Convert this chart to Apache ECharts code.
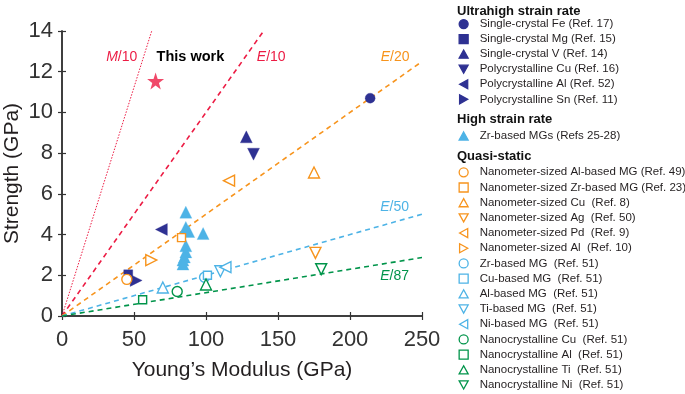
<!DOCTYPE html>
<html><head><meta charset="utf-8">
<script src="https://cdn.jsdelivr.net/npm/echarts@6/dist/echarts.min.js"></script>
<style>html,body{margin:0;padding:0;background:#fff}#c{width:685px;height:394px}</style>
</head><body><div id="c"></div>
<script>
// ---- axis ticks ----
const xTicks = [0, 50, 100, 150, 200, 250];
const yTicks = [0, 2, 4, 6, 8, 10, 12, 14];

// ---- Ultrahigh strain rate ----
const singleCrystalFe = [[214, 10.7]];
const singleCrystalMg = [[46, 2.05]];
const singleCrystalV = [[128, 8.8]];
const polyCu = [[133, 7.95]];
const polyAl = [[69, 4.25]];
const polySn = [[51.5, 1.75]];
// ---- High strain rate ----
const zrMGsHigh = [[86, 5.1], [86, 4.35], [88, 4.15], [98, 4.05], [86, 3.45], [86, 3.15], [85, 2.9], [84, 2.75], [84, 2.55]];
// ---- Quasi-static ----
const nanoAlMG = [[45, 1.8]];
const nanoZrMG = [[83, 3.85]];
const nanoCu = [[175, 7.05]];
const nanoAg = [[176, 3.1]];
const nanoPd = [[116, 6.65]];
const nanoAl = [[62, 2.75]];
const zrMG = [[99, 1.9]];
const cuMG = [[101, 2.0]];
const alMG = [[70, 1.4]];
const tiMG = [[110, 2.2]];
const niMG = [[113.5, 2.4]];
const ncCu = [[80, 1.2]];
const ncAl = [[56, 0.8]];
const ncTi = [[100, 1.55]];
const ncNi = [[180, 2.3]];
// ---- This work ----
const thisWork = [[65, 11.55]];

// ---- guide lines (start, end) ----
const lineM10 = [[0, 0], [62.3, 14]];
const lineE10 = [[0, 0], [140, 14]];
const lineE20 = [[0, 0], [250, 12.5]];
const lineE50 = [[0, 0], [250, 5]];
const lineE87 = [[0, 0], [250, 2.87]];

// ---- annotation anchors (data coords) ----
const annotM10 = [41.5, 12.72];
const annotE10 = [145.3, 12.72];
const annotThis = [89.2, 12.72];
const annotE20 = [231.3, 12.72];
const annotE50 = [231, 5.37];
const annotE87 = [231, 1.96];

const NAVY = '#2e3192', LBLUE = '#4db3e6', ORANGE = '#f7941d', GREEN = '#00944a', RED = '#ec1c44';
const FONT = '"Liberation Sans", Arial, Helvetica, sans-serif';

const TRI_UP = 'path://M5,0 L10,9 L0,9 Z';
const TRI_DOWN = 'path://M0,0 L10,0 L5,9 Z';
const TRI_LEFT = 'path://M0,5 L9,0 L9,10 Z';
const TRI_RIGHT = 'path://M0,0 L9,5 L0,10 Z';
const STAR = 'path://M50,0 L61.8,35.1 L98.1,35.1 L68.8,56.8 L79.4,91.3 L50,70 L20.6,91.3 L31.2,56.8 L1.9,35.1 L38.2,35.1 Z';

function sc(name, data, color, symbol, size, hollow) {
  return {
    type: 'scatter', name: name, data: data, symbol: symbol, symbolSize: size,
    itemStyle: hollow ? {color: '#fff', borderColor: color, borderWidth: 1.4, opacity: 1}
                      : {color: color, borderColor: color, borderWidth: 0.3, opacity: 1},
    z: 5, emphasis: {disabled: true}
  };
}
function ln(data, color, type, width) {
  return {type: 'line', data: data, symbol: 'none', silent: true, z: 2,
          lineStyle: {color: color, type: type, width: width}};
}

const ultra = [
  sc('Single-crystal Fe (Ref. 17)', singleCrystalFe, NAVY, 'circle', 10, false),
  sc('Single-crystal Mg (Ref. 15)', singleCrystalMg, NAVY, 'rect', 9, false),
  sc('Single-crystal V (Ref. 14)', singleCrystalV, NAVY, TRI_UP, 12, false),
  sc('Polycrystalline Cu (Ref. 16)', polyCu, NAVY, TRI_DOWN, 12, false),
  sc('Polycrystalline Al (Ref. 52)', polyAl, NAVY, TRI_LEFT, 12, false),
  sc('Polycrystalline Sn (Ref. 11)', polySn, NAVY, TRI_RIGHT, 12, false)
];
const high = [sc('Zr-based MGs (Refs 25-28)', zrMGsHigh, LBLUE, TRI_UP, 12, false)];
const quasi = [
  sc('Nanometer-sized Al-based MG (Ref. 49)', nanoAlMG, ORANGE, 'circle', 10, true),
  sc('Nanometer-sized Zr-based MG (Ref. 23)', nanoZrMG, ORANGE, 'rect', 8, true),
  sc('Nanometer-sized Cu  (Ref. 8)', nanoCu, ORANGE, TRI_UP, 11, true),
  sc('Nanometer-sized Ag  (Ref. 50)', nanoAg, ORANGE, TRI_DOWN, 11, true),
  sc('Nanometer-sized Pd  (Ref. 9)', nanoPd, ORANGE, TRI_LEFT, 11, true),
  sc('Nanometer-sized Al  (Ref. 10)', nanoAl, ORANGE, TRI_RIGHT, 11, true),
  sc('Zr-based MG  (Ref. 51)', zrMG, LBLUE, 'circle', 10, true),
  sc('Cu-based MG  (Ref. 51)', cuMG, LBLUE, 'rect', 8, true),
  sc('Al-based MG  (Ref. 51)', alMG, LBLUE, TRI_UP, 11, true),
  sc('Ti-based MG  (Ref. 51)', tiMG, LBLUE, TRI_DOWN, 11, true),
  sc('Ni-based MG  (Ref. 51)', niMG, LBLUE, TRI_LEFT, 11, true),
  sc('Nanocrystalline Cu  (Ref. 51)', ncCu, GREEN, 'circle', 10, true),
  sc('Nanocrystalline Al  (Ref. 51)', ncAl, GREEN, 'rect', 8, true),
  sc('Nanocrystalline Ti  (Ref. 51)', ncTi, GREEN, TRI_UP, 11, true),
  sc('Nanocrystalline Ni  (Ref. 51)', ncNi, GREEN, TRI_DOWN, 11, true)
];
const starSeries = {type: 'scatter', name: 'This work', data: thisWork, symbol: STAR, symbolSize: 17,
  itemStyle: {color: RED}, z: 6};

const lines = [
  ln(lineM10, RED, [1.5, 1.5], 1),
  ln(lineE10, RED, [5, 4], 1.6),
  ln(lineE20, ORANGE, [5, 4], 1.6),
  ln(lineE50, LBLUE, [5, 4], 1.6),
  ln(lineE87, GREEN, [5, 4], 1.6)
];

function legend(items, top, lh) {
  return {orient: 'vertical', left: 458.5, top: top, padding: 0, itemGap: 0,
    itemWidth: 9, itemHeight: 9, selectedMode: false,
    data: items.map(s => s.name),
    itemStyle: {borderWidth: 1.3},
    formatter: name => '{t|' + name + '}',
    textStyle: {fontFamily: FONT, fontSize: 11.5, color: '#231f20', lineHeight: lh,
      rich: {t: {fontFamily: FONT, fontSize: 11.5, color: '#231f20', lineHeight: lh, padding: [0, 0, 0, 6.5]}}}};
}
const headStyle = {fontFamily: FONT, fontSize: 13, fontWeight: 'bold', color: '#111'};

const axisCommon = {
  axisLine: {show: true, lineStyle: {color: '#333', width: 1.5}},
  axisTick: {show: true, inside: true, length: 4, lineStyle: {color: '#333', width: 1.2}},
  splitLine: {show: false}
};

const option = {
  animation: false,
  backgroundColor: '#fff',
  grid: {left: 62, top: 31, right: 263, bottom: 78, containLabel: false, outerBoundsMode: 'none'},
  title: [
    {text: 'Ultrahigh strain rate', left: 457, top: 5, padding: 0, textStyle: headStyle},
    {text: 'High strain rate', left: 457, top: 113, padding: 0, textStyle: headStyle},
    {text: 'Quasi-static', left: 457, top: 150, padding: 0, textStyle: headStyle}
  ],
  legend: [legend(ultra, 16.5, 15.06), legend(high, 128.5, 15), legend(quasi, 164.7, 15.19)],
  xAxis: [
    Object.assign({type: 'value', min: xTicks[0], max: xTicks[xTicks.length - 1], interval: xTicks[1] - xTicks[0],
      name: 'Young\u2019s Modulus (GPa)', nameLocation: 'middle', nameGap: 44, nameMoveOverlap: false,
      nameTextStyle: {fontFamily: FONT, fontSize: 21, color: '#231f20'},
      axisLabel: {fontFamily: FONT, fontSize: 22, color: '#333', margin: 13}}, axisCommon),
    Object.assign({type: 'value', position: 'top', min: xTicks[0], max: xTicks[xTicks.length - 1],
      interval: xTicks[1] - xTicks[0], axisLabel: {show: false}}, axisCommon)
  ],
  yAxis: [
    Object.assign({type: 'value', min: yTicks[0], max: yTicks[yTicks.length - 1], interval: yTicks[1] - yTicks[0],
      name: 'Strength (GPa)', nameLocation: 'middle', nameGap: 39, nameMoveOverlap: false,
      nameTextStyle: {fontFamily: FONT, fontSize: 21, color: '#231f20'},
      axisLabel: {fontFamily: FONT, fontSize: 22, color: '#333', margin: 9}}, axisCommon),
    Object.assign({type: 'value', position: 'right', min: yTicks[0], max: yTicks[yTicks.length - 1],
      interval: yTicks[1] - yTicks[0], axisLabel: {show: false}}, axisCommon)
  ],
  series: [].concat(lines, ultra, high, quasi, [starSeries])
};

const chart = echarts.init(document.getElementById('c'), null, {renderer: 'canvas'});
chart.setOption(option);

// annotations placed at data coordinates through the chart's own scales
const annotations = [
  [annotM10, '{i|M}{n|/10}', RED, false],
  [annotE10, '{i|E}{n|/10}', RED, false],
  [annotThis, '{b|This work}', '#000', true],
  [annotE20, '{i|E}{n|/20}', ORANGE, false],
  [annotE50, '{i|E}{n|/50}', LBLUE, false],
  [annotE87, '{i|E}{n|/87}', GREEN, false]
];
chart.setOption({
  graphic: annotations.map(a => {
    const p = chart.convertToPixel({gridIndex: 0}, a[0]);
    return {type: 'text', x: p[0], y: p[1], z: 100, silent: true,
      style: {text: a[1], align: 'center', verticalAlign: 'middle', fill: a[2],
        rich: {
          i: {fontFamily: FONT, fontSize: 14, fontStyle: 'italic', fill: a[2]},
          n: {fontFamily: FONT, fontSize: 14, fill: a[2]},
          b: {fontFamily: FONT, fontSize: 14.5, fontWeight: 'bold', fill: '#000'}
        }}};
  })
});
</script>
</body></html>
